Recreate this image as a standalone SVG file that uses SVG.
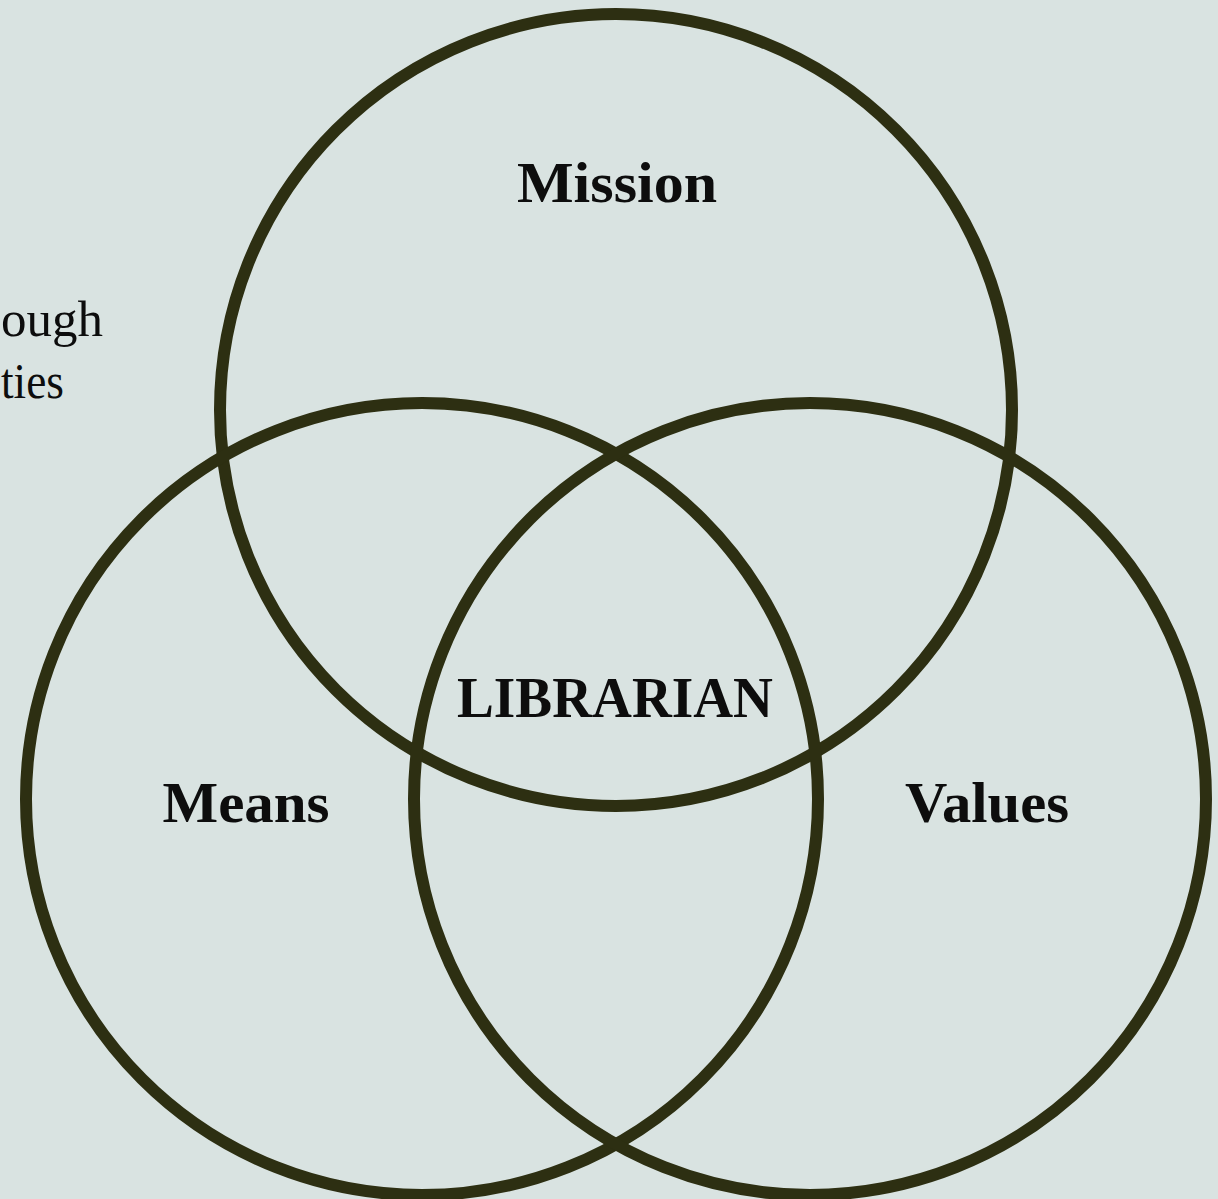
<svg xmlns="http://www.w3.org/2000/svg" width="1218" height="1199" viewBox="0 0 1218 1199">
<style>
.c{fill:none;stroke:#2d2f12;stroke-width:12}
.t{font-family:"Liberation Serif","Times New Roman",serif;font-weight:bold;font-size:58px;fill:#0d0d0d;text-anchor:middle}
.s{font-family:"Liberation Serif","Times New Roman",serif;font-size:50px;fill:#0d0d0d}
</style>
<rect width="1218" height="1199" fill="#d9e3e1"/>
<g id="side-text">
<text class="s" x="1" y="336" textLength="102" lengthAdjust="spacingAndGlyphs">ough</text>
<text class="s" x="1" y="398" textLength="63" lengthAdjust="spacingAndGlyphs">ties</text>
</g>
<g id="connectors"></g>
<g id="mission"><circle class="c" cx="616" cy="410" r="396"/><text class="t" x="617" y="202" textLength="200" lengthAdjust="spacingAndGlyphs">Mission</text></g>
<g id="means"><circle class="c" cx="422" cy="799" r="396"/><text class="t" x="246" y="822" textLength="167" lengthAdjust="spacingAndGlyphs">Means</text></g>
<g id="values"><circle class="c" cx="810" cy="799" r="396"/><text class="t" x="987" y="822" textLength="164" lengthAdjust="spacingAndGlyphs">Values</text></g>
<g id="librarian"><text class="t" x="615" y="717" textLength="316" lengthAdjust="spacingAndGlyphs">LIBRARIAN</text></g>
</svg>
